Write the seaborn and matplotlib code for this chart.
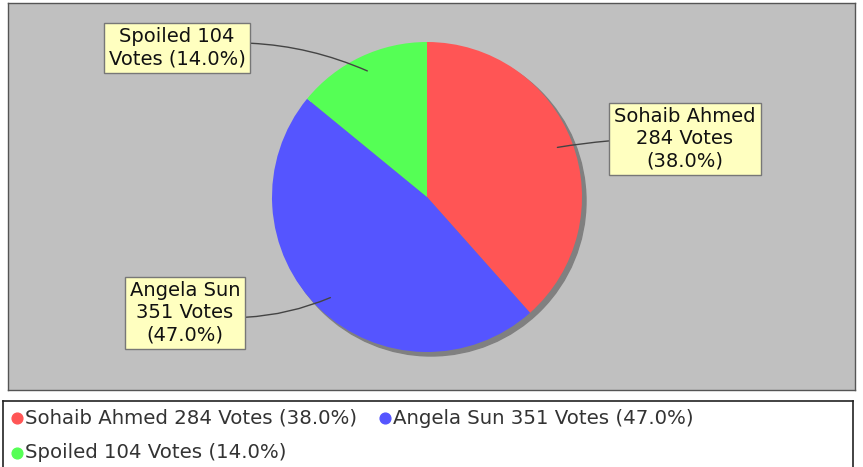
import numpy as np
import matplotlib
matplotlib.use("Agg")
import matplotlib.pyplot as plt
import seaborn as sns
from matplotlib.patches import Circle

candidates = ["Sohaib Ahmed", "Angela Sun", "Spoiled"]
votes = [284, 351, 104]
percents = [38.0, 47.0, 14.0]
colors = ["#FF5555", "#5555FF", "#55FF55"]

sns.set_style("white")
plt.rcParams["font.family"] = ["DejaVu Sans"]

W, H = 863, 467
fig = plt.figure(figsize=(W / 100, H / 100), dpi=100)
fig.patch.set_facecolor("white")

# plot panel in pixel coordinates
px_l, px_r, px_t, px_b = 8, 855, 3, 390
ax = fig.add_axes([px_l / W, (H - px_b) / H, (px_r - px_l) / W, (px_b - px_t) / H])
ax.set_facecolor("#C0C0C0")

cx, cy, R = 427, H - 197, 155
ax.add_patch(Circle((cx + 4, cy - 4), R, color="#808080", zorder=1))
wedges, _ = ax.pie(votes, colors=colors, startangle=90, counterclock=False,
                   center=(cx, cy), radius=R, frame=True,
                   wedgeprops=dict(linewidth=0, zorder=2))
ax.set_xlim(px_l, px_r)
ax.set_ylim(H - px_b, H - px_t)
ax.set_aspect("equal")
ax.set_xticks([])
ax.set_yticks([])
for s in ax.spines.values():
    s.set_color("#555555")
    s.set_linewidth(1.0)

box_centers = {"Sohaib Ahmed": (685, 139), "Angela Sun": (185, 313), "Spoiled": (177, 48)}
label_texts = {
    "Sohaib Ahmed": "Sohaib Ahmed\n{v} Votes\n({p:.1f}%)",
    "Angela Sun": "Angela Sun\n{v} Votes\n({p:.1f}%)",
    "Spoiled": "Spoiled {v}\nVotes ({p:.1f}%)",
}
rads = {"Sohaib Ahmed": 0.05, "Angela Sun": 0.15, "Spoiled": -0.15}
for w, name, v, p in zip(wedges, candidates, votes, percents):
    mid = np.deg2rad((w.theta1 + w.theta2) / 2)
    ax_pt = (cx + 0.9 * R * np.cos(mid), cy + 0.9 * R * np.sin(mid))
    bx, by = box_centers[name]
    ax.annotate(label_texts[name].format(v=v, p=p), xy=ax_pt, xytext=(bx, H - by),
                ha="center", va="center", multialignment="center",
                fontsize=14, color="#111111", linespacing=1.2,
                bbox=dict(boxstyle="square,pad=0.25", fc="#FFFFC0", ec="#777777", lw=1.0),
                arrowprops=dict(arrowstyle="-", color="#444444", lw=1.0,
                                connectionstyle=f"arc3,rad={rads[name]}",
                                shrinkA=0, shrinkB=0),
                zorder=5)

# legend panel
lg_l, lg_r, lg_t, lg_b = 3, 853, 401, 470
lax = fig.add_axes([lg_l / W, (H - lg_b) / H, (lg_r - lg_l) / W, (lg_b - lg_t) / H])
lax.set_xlim(lg_l, lg_r)
lax.set_ylim(H - lg_b, H - lg_t)
lax.set_facecolor("white")
lax.set_xticks([])
lax.set_yticks([])
for s in lax.spines.values():
    s.set_color("#222222")
    s.set_linewidth(1.2)

leg_pos = [(10, 418), (378, 418), (10, 453)]
for (lx, ly), name, v, p, c in zip(leg_pos, candidates, votes, percents, colors):
    lax.scatter([lx + 7], [H - ly], s=60, color=c, zorder=3)
    lax.text(lx + 15, H - ly, f"{name} {v} Votes ({p:.1f}%)", ha="left", va="center",
             fontsize=14.2, color="#333333")

fig.savefig("out.png", dpi=100)
